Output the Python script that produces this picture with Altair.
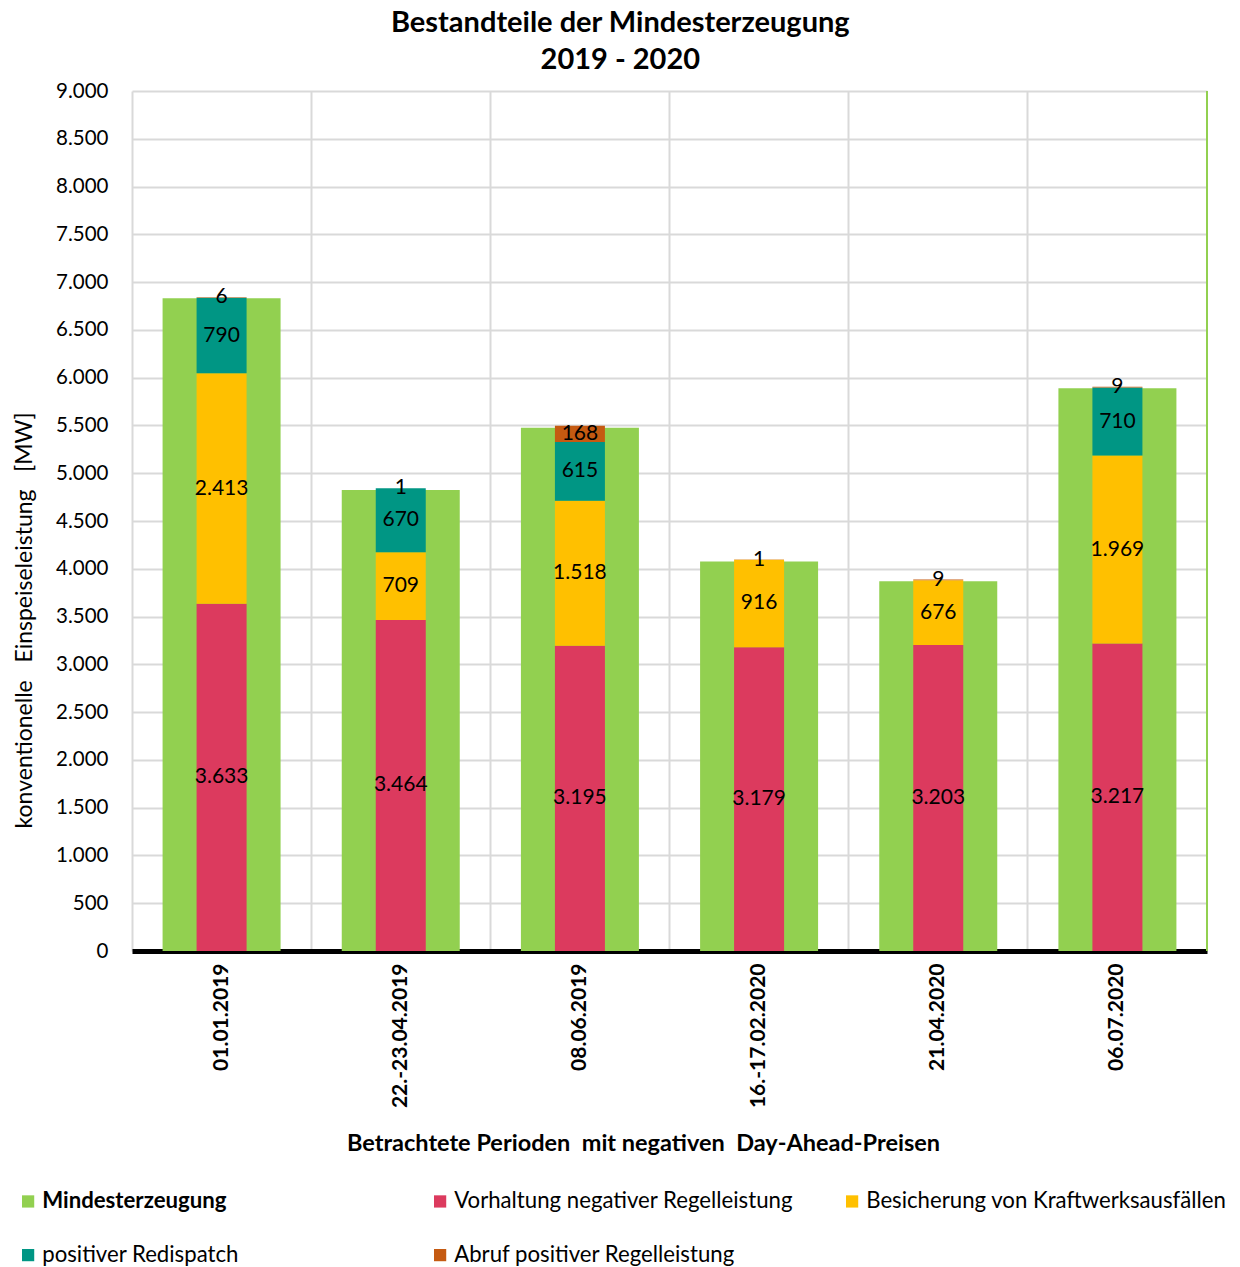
import altair as alt
import pandas as pd

periods = ["01.01.2019", "22.-23.04.2019", "08.06.2019", "16.-17.02.2020", "21.04.2020", "06.07.2020"]
mindest = [6830, 4825, 5475, 4075, 3870, 5890]
vorhaltung = [3633, 3464, 3195, 3179, 3203, 3217]
besicherung = [2413, 709, 1518, 916, 676, 1969]
redispatch = [790, 670, 615, 0, 0, 710]
abruf = [6, 1, 168, 1, 9, 9]

series_names = ["Mindesterzeugung", "Vorhaltung negativer Regelleistung",
                "Besicherung von Kraftwerksausfällen", "positiver Redispatch",
                "Abruf positiver Regelleistung"]
series_colors = ["#92D050", "#DC3A5E", "#FFC000", "#009684", "#C55A11"]


def de_fmt(v):
    return f"{v:,}".replace(",", ".")


green_df = pd.DataFrame({"period": periods, "value": mindest, "series": series_names[0]})

rows = []
for i, p in enumerate(periods):
    base = 0
    for k, vals in enumerate([vorhaltung, besicherung, redispatch, abruf]):
        v = vals[i]
        if v > 0:
            rows.append({"period": p, "series": series_names[k + 1], "order": k,
                         "y0": base, "y1": base + v, "mid": base + v / 2, "label": de_fmt(v)})
        base += v
stack_df = pd.DataFrame(rows)

FONT = "Lato"

color_scale = alt.Scale(domain=series_names, range=series_colors)
x_enc = alt.X("period:N", sort=periods, scale=alt.Scale(paddingInner=0, paddingOuter=0),
              axis=alt.Axis(title="Betrachtete Perioden\u00a0 mit negativen\u00a0 Day-Ahead-Preisen",
                            labelAngle=-90, labelFontSize=21, labelFontWeight="bold", labelColor="black",
                            labelPadding=12, ticks=False, bandPosition=0, grid=True,
                            gridColor="#d9d9d9", gridWidth=2,
                            domainColor="black", domainWidth=5,
                            titleFontSize=23.5, titleFontWeight="bold", titleColor="black",
                            titlePadding=24, titleX=511))
y_scale = alt.Scale(domain=[0, 9000], nice=False)
y_axis = alt.Axis(title="konventionelle\u00a0\u00a0 Einspeiseleistung\u00a0\u00a0 [MW]", values=list(range(0, 9001, 500)),
                  labelExpr="replace(format(datum.value, ','), ',', '.')",
                  labelFontSize=20.5, labelColor="black", labelPadding=24, ticks=False, domain=False,
                  gridColor="#d9d9d9", gridWidth=2,
                  titleFontSize=23, titleFontWeight="normal", titleColor="black", titlePadding=19,
                  titleY=529)

legend = alt.Legend(title=None, orient="none", legendX=-115, legendY=1099, columns=3,
                    direction="horizontal",
                    gridAlign="all", columnPadding=26, rowPadding=31,
                    symbolType="square", symbolSize=150, symbolStrokeWidth=0,
                    labelFontSize=22.2, labelColor="black", labelLimit=600, labelOffset=3,
                    labelFontWeight=alt.ExprRef("datum.label == 'Mindesterzeugung' ? 'bold' : 'normal'"))

green = alt.Chart(green_df).mark_bar(size=118).encode(
    x=x_enc,
    y=alt.Y("value:Q", scale=y_scale, axis=y_axis),
    color=alt.Color("series:N", scale=color_scale, legend=legend),
)

stacks = alt.Chart(stack_df).mark_bar(size=50).encode(
    x=alt.X("period:N", sort=periods),
    y=alt.Y("y0:Q", scale=y_scale),
    y2="y1:Q",
    color=alt.Color("series:N", scale=color_scale, legend=legend),
)

labels = alt.Chart(stack_df).mark_text(fontSize=21, color="black", font=FONT, baseline="middle").encode(
    x=alt.X("period:N", sort=periods),
    y=alt.Y("mid:Q", scale=y_scale),
    text="label:N",
)

right_edge = alt.Chart(green_df).mark_rule(color="#92D050", strokeWidth=2).encode(
    x=alt.value(1075), y=alt.value(0), y2=alt.value(860)
)

chart = alt.layer(green, stacks, labels, right_edge).properties(
    width=1075, height=860,
    title=alt.Title(["Bestandteile der Mindesterzeugung", "2019 - 2020"], fontSize=29, fontWeight="bold",
                    font=FONT, color="black", anchor="middle", frame="bounds", lineHeight=37, offset=6),
    padding={"left": 13, "top": 9, "right": 3, "bottom": 0},
).configure(font=FONT).configure_view(stroke=None).configure_axis(labelFont=FONT, titleFont=FONT).configure_legend(
    labelFont=FONT)

chart.save("out.html", embed_options={"renderer": "svg", "actions": False})
